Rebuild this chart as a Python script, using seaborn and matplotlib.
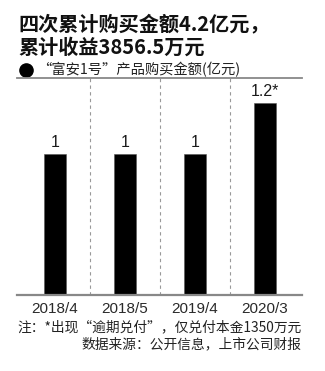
import matplotlib
matplotlib.use("Agg")
import matplotlib.pyplot as plt
import seaborn as sns
import pandas as pd

categories = ["2018/4", "2018/5", "2019/4", "2020/3"]
amounts = [1, 1, 1, 1.2]
value_labels = ["1", "1", "1", "1.2*"]

title_lines = ["四次累计购买金额4.2亿元，", "累计收益3856.5万元"]
legend_text = "“富安1号”产品购买金额(亿元)"
note_text = "注：*出现“逾期兑付”，仅兑付本金1350万元"
source_text = "数据来源：公开信息，上市公司财报"

sns.set_theme(style="white")
plt.rcParams['font.family'] = ['Noto Sans CJK SC', 'DejaVu Sans']

df = pd.DataFrame({"date": categories, "amount": amounts})

fig = plt.figure(figsize=(3.25, 3.71), dpi=100)
ax = fig.add_axes([0.0523, 0.2049, 0.929 - 0.0523, 0.7898 - 0.2049])

sns.barplot(data=df, x="date", y="amount", color="black", saturation=1,
            width=0.31, ax=ax, edgecolor="#555555", linewidth=0.4)

ax.set_xlim(-0.54, 3.53)
ax.set_ylim(0.447, 1.298)

for i, (v, lab) in enumerate(zip(amounts, value_labels)):
    ax.annotate(lab, (i, v), xytext=(0, 3), textcoords="offset points",
                ha="center", va="bottom", fontsize=11.5,
                family=["Liberation Sans", "DejaVu Sans"], color="#1a1a1a")

for xs in [0.5, 1.5, 2.5]:
    ax.axvline(xs, color="#999999", lw=0.8, ls=(0, (3, 3)))

for s in ["left", "right"]:
    ax.spines[s].set_visible(False)
ax.spines["top"].set_color("#888888")
ax.spines["top"].set_linewidth(1.3)
ax.spines["bottom"].set_color("#888888")
ax.spines["bottom"].set_linewidth(1.6)

ax.set_yticks([])
ax.set_xlabel("")
ax.set_ylabel("")
ax.tick_params(axis="x", length=0, pad=5, labelsize=11, colors="#2a2a2a")
for t in ax.get_xticklabels():
    t.set_family(["Liberation Sans", "DejaVu Sans"])

fig.text(18 / 325, 1 - 24 / 371, title_lines[0], fontsize=14.5, fontweight="bold",
         va="center", ha="left", color="#111111")
fig.text(18 / 325, 1 - 47 / 371, title_lines[1], fontsize=14.5, fontweight="bold",
         va="center", ha="left", color="#111111")

ax.plot([26 / 325], [1 - 70 / 371], marker="o", markersize=9.5, color="black",
        transform=fig.transFigure, clip_on=False)
fig.text(37 / 325, 1 - 70 / 371, legend_text, fontsize=10.3,
         va="center", ha="left", color="#222222")

fig.text(302 / 325, 1 - 327 / 371, note_text, fontsize=9.9,
         va="center", ha="right", color="#222222")
fig.text(302 / 325, 1 - 344 / 371, source_text, fontsize=9.9,
         va="center", ha="right", color="#222222")

fig.savefig("out.png", dpi=100)
